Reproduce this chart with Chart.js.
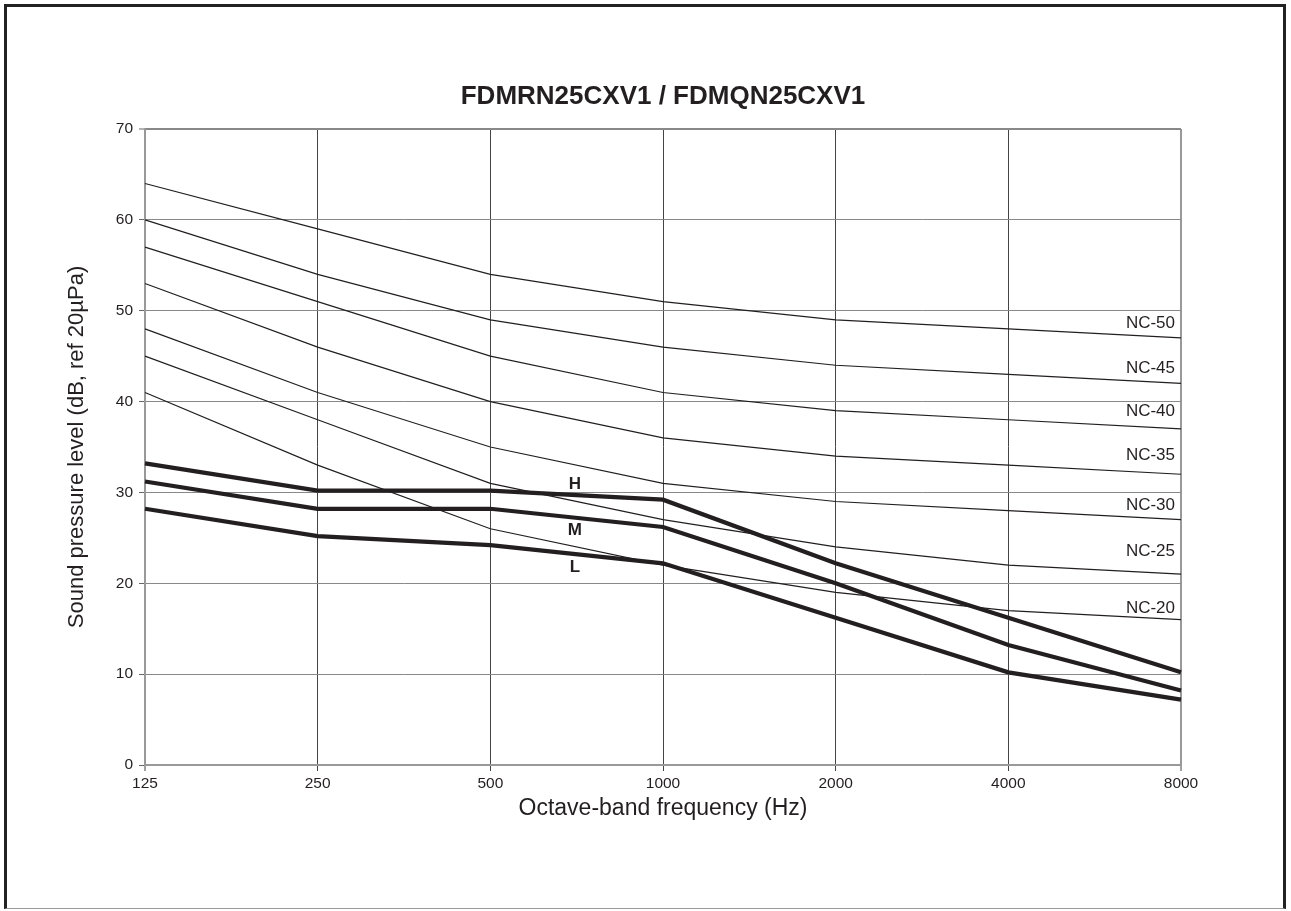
<!DOCTYPE html>
<html>
<head>
<meta charset="utf-8">
<script src="https://cdn.jsdelivr.net/npm/chart.js@4/dist/chart.umd.min.js"></script>
<style>
  html, body { margin: 0; padding: 0; background: #fff; }
  #wrap { position: relative; width: 1291px; height: 911px; }
  #frame { position: absolute; left: 4px; top: 4px; width: 1282px; height: 905px;
           border-left: 3px solid #222; border-top: 3px solid #222; border-right: 3px solid #222;
           border-bottom: 1px solid #999; pointer-events: none; box-sizing: border-box; }
</style>
</head>
<body>
<div id="wrap">
  <canvas id="c" width="1291" height="911"></canvas>
  <div id="frame"></div>
</div>
<script>
// ---- data ----
const frequencies = ['125', '250', '500', '1000', '2000', '4000', '8000'];
const yTicks = [0, 10, 20, 30, 40, 50, 60, 70];

const nc50 = [64, 59, 54, 51, 49, 48, 47];
const nc45 = [60, 54, 49, 46, 44, 43, 42];
const nc40 = [57, 51, 45, 41, 39, 38, 37];
const nc35 = [53, 46, 40, 36, 34, 33, 32];
const nc30 = [48, 41, 35, 31, 29, 28, 27];
const nc25 = [45, 38, 31, 27, 24, 22, 21];
const nc20 = [41, 33, 26, 22, 19, 17, 16];

const modeH = [33.2, 30.2, 30.2, 29.2, 22.2, 16.2, 10.2];
const modeM = [31.2, 28.2, 28.2, 26.2, 20.0, 13.2, 8.2];
const modeL = [28.2, 25.2, 24.2, 22.2, 16.2, 10.2, 7.2];

const ncNames = ['NC-50', 'NC-45', 'NC-40', 'NC-35', 'NC-30', 'NC-25', 'NC-20'];
const ncLabelValues = [48.6, 43.7, 38.9, 34.1, 28.6, 23.5, 17.3];
const modeNames = ['H', 'M', 'L'];
const modeLabelX = [2.49, 2.49, 2.49];
const modeLabelValues = [30.9, 25.8, 21.8];

const chartTitle = 'FDMRN25CXV1 / FDMQN25CXV1';
const xTitle = 'Octave-band frequency (Hz)';
const yTitle = 'Sound pressure level (dB, ref 20\u00B5Pa)';

// ---- chart ----
const FONT = '"Liberation Sans", Arial, sans-serif';
const INK = '#231f20';

const ncSeries = [nc50, nc45, nc40, nc35, nc30, nc25, nc20];
const datasets = [];
ncSeries.forEach((s, i) => datasets.push({
  label: ncNames[i], data: s, borderColor: INK, borderWidth: 1.2,
  pointRadius: 0, tension: 0, fill: false
}));
[modeH, modeM, modeL].forEach((s, i) => datasets.push({
  label: modeNames[i], data: s, borderColor: INK, borderWidth: 4.2,
  pointRadius: 0, tension: 0, fill: false, borderJoinStyle: 'miter'
}));

const labelPlugin = {
  id: 'labels',
  afterDatasetsDraw(chart) {
    const {ctx, scales: {x, y}} = chart;
    ctx.save();
    ctx.fillStyle = INK;
    ctx.font = '17px ' + FONT;
    ctx.textAlign = 'right';
    ctx.textBaseline = 'middle';
    const xr = x.getPixelForValue(frequencies.length - 1) - 6;
    ncNames.forEach((n, i) => ctx.fillText(n, xr, y.getPixelForValue(ncLabelValues[i])));
    ctx.font = 'bold 17px ' + FONT;
    ctx.textAlign = 'center';
    modeNames.forEach((n, i) => ctx.fillText(n, x.getPixelForValue(modeLabelX[i]), y.getPixelForValue(modeLabelValues[i])));
    ctx.restore();
  },
  afterDraw(chart) {
    const {ctx} = chart;
    ctx.save();
    ctx.fillStyle = INK;
    ctx.font = 'bold 26px ' + FONT;
    ctx.textAlign = 'center';
    ctx.textBaseline = 'middle';
    ctx.fillText(chartTitle, 663, 97);
    ctx.restore();
  }
};

new Chart(document.getElementById('c'), {
  type: 'line',
  data: { labels: frequencies, datasets },
  options: {
    responsive: false,
    animation: false,
    events: [],
    layout: { padding: { left: 64, top: 129, right: 110, bottom: 89 } },
    plugins: { legend: { display: false }, tooltip: { enabled: false }, title: { display: false } },
    scales: {
      x: {
        type: 'category',
        offset: false,
        afterFit(s) { s.height = 57; },
        border: { display: true, color: '#999', width: 2 },
        grid: {
          color: (c) => (c.index === 0 || c.index === frequencies.length - 1) ? '#999' : '#444',
          lineWidth: (c) => (c.index === 0 || c.index === frequencies.length - 1) ? 2 : 1,
          tickLength: 6,
          tickColor: '#444',
          tickWidth: 1
        },
        ticks: { color: INK, font: { family: FONT, size: 15.5 }, padding: 3, maxRotation: 0, autoSkip: false },
        title: { display: true, text: xTitle, color: INK, font: { family: FONT, size: 23 }, padding: 0 }
      },
      y: {
        min: 0, max: 70,
        afterFit(s) { s.width = 81; },
        afterBuildTicks(s) { s.ticks = yTicks.map(v => ({ value: v })); },
        border: { display: true, color: '#999', width: 2 },
        grid: {
          color: '#888',
          lineWidth: (c) => c.tick && c.tick.value === 70 ? 2 : 1,
          tickLength: 6,
          tickColor: '#666',
          tickWidth: 1
        },
        ticks: { color: INK, font: { family: FONT, size: 15.5 }, padding: 6 },
        title: { display: true, text: yTitle, color: INK, font: { family: FONT, size: 22 }, padding: 0 }
      }
    }
  },
  plugins: [labelPlugin]
});
</script>
</body>
</html>
